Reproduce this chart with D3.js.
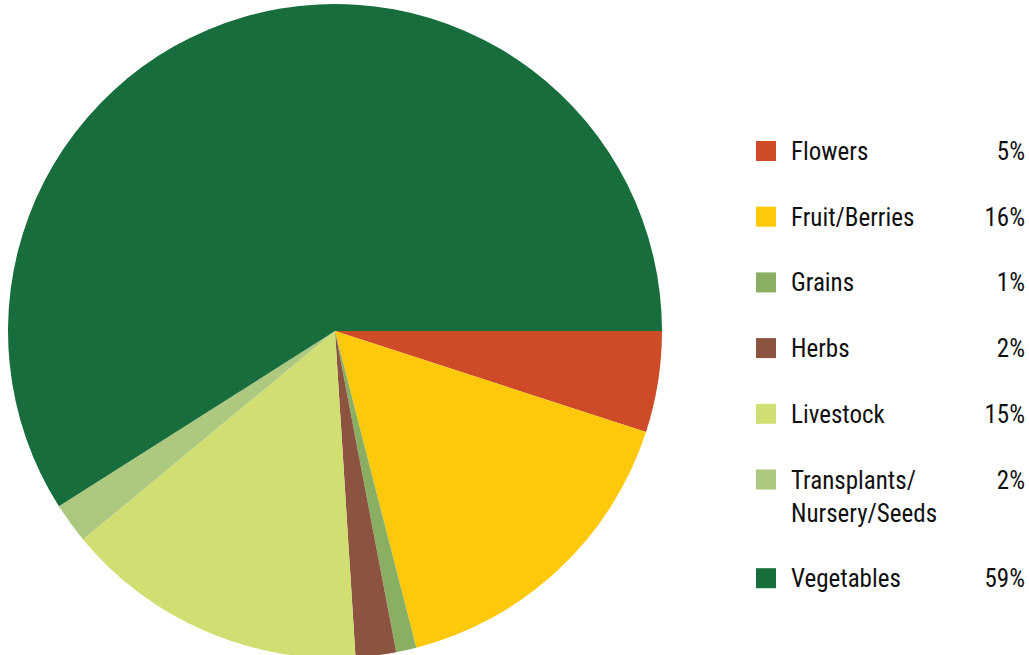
<!DOCTYPE html>
<html>
<head>
<meta charset="utf-8">
<script src="https://cdn.jsdelivr.net/npm/d3@7"></script>
<style>
  html, body { margin: 0; padding: 0; background: #fff; }
  svg { display: block; }
  .lg text { font-family: "Liberation Sans Narrow", "Roboto Condensed", Roboto, sans-serif; font-size: 25px; fill: #111; }
</style>
</head>
<body>
<svg id="chart" width="1029" height="655"></svg>
<script>
// Categories, shares (%) and colours, in clockwise order starting at 3 o'clock
const categories = ['Flowers', 'Fruit/Berries', 'Grains', 'Herbs', 'Livestock', 'Transplants/\nNursery/Seeds', 'Vegetables'];
const shares     = [5, 16, 1, 2, 15, 2, 59];
const colors     = ['#cf4b27', '#ffc90b', '#8baf62', '#8b5340', '#d0de72', '#adc97f', '#176d3c'];

const W = 1029, H = 655;
const cx = 335, cy = 331, R = 327;

const svg = d3.select('#chart');
const data = categories.map((c, i) => ({ name: c, value: shares[i], color: colors[i] }));

// Pie starts at east (pi/2 in d3's clock-wise-from-north frame)
const pie = d3.pie().value(d => d.value).sort(null)
  .startAngle(Math.PI / 2).endAngle(Math.PI / 2 + 2 * Math.PI);
const arc = d3.arc().innerRadius(0).outerRadius(R);

svg.append('g')
  .attr('transform', `translate(${cx},${cy})`)
  .selectAll('path').data(pie(data)).join('path')
  .attr('d', arc)
  .attr('fill', d => d.data.color);

// ── Legend ───────────────────────────────────────────────
const lg = svg.append('g').attr('class', 'lg');
const lineH = 33, rowGap = 65.7;
let y = 151;
data.forEach(d => {
  const lines = d.name.split('\n');
  const g = lg.append('g').attr('transform', `translate(0,${y})`);
  g.append('rect').attr('x', 756).attr('y', -10).attr('width', 20).attr('height', 20).attr('fill', d.color);
  lines.forEach((ln, k) => {
    g.append('text').attr('x', 791).attr('y', k * lineH).attr('dy', '0.36em').text(ln);
  });
  g.append('text').attr('x', 1025).attr('y', 0).attr('dy', '0.36em')
    .attr('text-anchor', 'end').text(d.value + '%');
  y += rowGap + (lines.length - 1) * lineH;
});
</script>
</body>
</html>
